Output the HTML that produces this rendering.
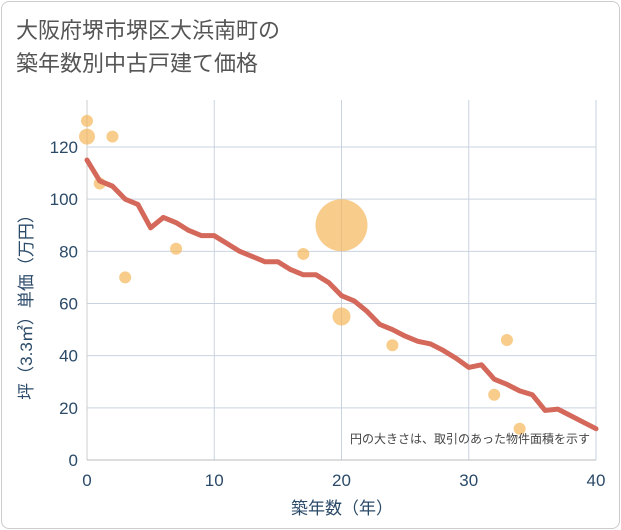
<!DOCTYPE html>
<html><head><meta charset="utf-8">
<style>
body{margin:0;background:#fff;}
.wrap{position:relative;width:621px;height:530px;font-family:"Liberation Sans","Noto Sans CJK JP",sans-serif;}
.frame{position:absolute;left:1px;top:1px;width:617px;height:526px;border:1px solid #ccc;border-radius:8px;background:#fff;}
.title{position:absolute;left:16px;top:14px;font-size:22px;line-height:33px;color:#555;}
svg{position:absolute;left:0;top:0;}
</style></head>
<body>
<div class="wrap">
<div class="frame"></div>
<div class="title">大阪府堺市堺区大浜南町の<br>築年数別中古戸建て価格</div>
<svg id="c" width="621" height="530"></svg>
</div>
<script>
const xTicks=[0,10,20,30,40];
const yTicks=[0,20,40,60,80,100,120];
const lineX=[0,1,2,3,4,5,6,7,8,9,10,11,12,13,14,15,16,17,18,19,20,21,22,23,24,25,26,27,28,29,30,31,32,33,34,35,36,37,38,39,40];
const lineY=[115,107,105,100,98,89,93,91,88,86,86,83,80,78,76,76,73,71,71,68,63,61,57,52,50,47.5,45.5,44.5,42,39,35.5,36.5,31,29,26.5,25,19,19.5,17,14.5,12];
const bubX=[0,0,2,1,3,7,17,20,20,24,32,33,34];
const bubY=[130,124,124,106,70,81,79,90,55,44,25,46,12];
const bubR=[6,8,6,6,6,6,6,26,9,6,6,6,6];
const ns="http://www.w3.org/2000/svg";
const svg=document.getElementById('c');
const X0=87,X1=596,Y0=460,Y1=147;
const sx=v=>X0+(X1-X0)*v/40;
const sy=v=>Y0-(Y0-Y1)*v/120;
function mk(t,a,p){const e=document.createElementNS(ns,t);for(const k in a)e.setAttribute(k,a[k]);(p||svg).appendChild(e);return e;}
const grid=mk('g',{});


xTicks.forEach(t=>{
 const l=mk('line',{x1:sx(t),x2:sx(t),y1:100,y2:Y0,stroke:t===0?'#ccc':'#c9d3e0','stroke-width':1},grid);
 
 
 const tx=mk('text',{x:sx(t),y:486,'text-anchor':'middle','font-size':17,fill:'#2b4a68'});
 tx.textContent=t;
 
 
});
yTicks.forEach(t=>{
 const l=mk('line',{x1:X0,x2:X1,y1:sy(t),y2:sy(t),stroke:'#c9d3e0','stroke-width':1},grid);
 
 
 const tx=mk('text',{x:78,y:sy(t)+6,'text-anchor':'end','font-size':17,fill:'#2b4a68'});
 tx.textContent=t;
 
 
});
const ax=mk('line',{x1:X0,x2:X1,y1:Y0,y2:Y0,stroke:'#bbb'});


bubX.forEach((v,i)=>{
 const c=mk('circle',{cx:sx(v),cy:sy(bubY[i]),r:bubR[i],fill:'#f5b75a','fill-opacity':0.7});
 
 
});
const p=mk('polyline',{points:lineX.map((v,i)=>sx(v)+','+sy(lineY[i])).join(' '),fill:'none',stroke:'#d4685a','stroke-width':5,'stroke-linejoin':'round','stroke-linecap':'round'});


const xt=mk('text',{x:342,y:514,'text-anchor':'middle','font-size':17,fill:'#2b4a68'});
xt.textContent='築年数（年）';


const yt=mk('text',{x:0,y:0,'text-anchor':'middle','font-size':17,fill:'#2b4a68',transform:'translate(32,303) rotate(-90)'});
yt.textContent='坪（3.3㎡）単価（万円）';


const note=mk('text',{x:590,y:443,'text-anchor':'end','font-size':12,fill:'#444'});
note.textContent='円の大きさは、取引のあった物件面積を示す';


</script>
</body></html>
